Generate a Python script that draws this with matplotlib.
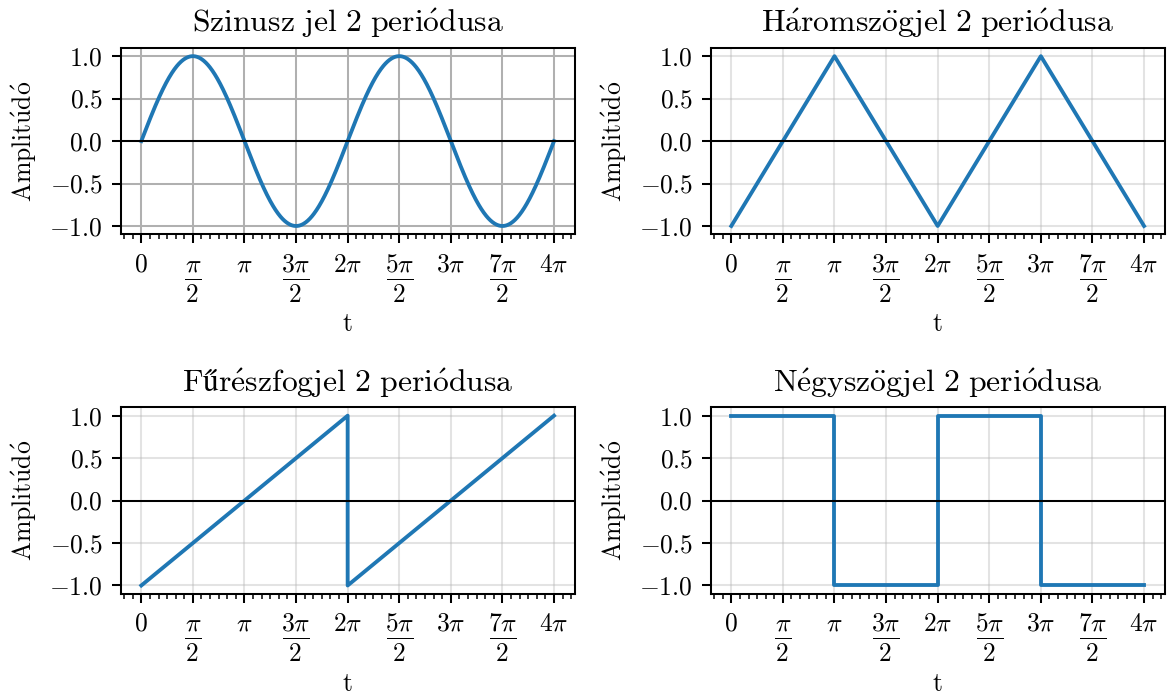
import numpy as np
import matplotlib
matplotlib.use("Agg")
import matplotlib.pyplot as plt
from matplotlib.ticker import MultipleLocator

plt.rcParams['font.family'] = 'serif'
plt.rcParams['font.serif'] = ['cmr10']
plt.rcParams['mathtext.fontset'] = 'cm'
plt.rcParams['axes.formatter.use_mathtext'] = True
plt.rcParams['axes.unicode_minus'] = True

PI = np.pi

# signal parameters
n_periods = 2
amplitude = 1.0

# breakpoints of the piecewise linear signals (t in units of pi)
tri_t = [0, 1, 2, 3, 4]
tri_y = [-1, 1, -1, 1, -1]
saw_t = [0, 2, 2, 4]
saw_y = [-1, 1, -1, 1]
sq_t = [0, 1, 1, 2, 2, 3, 3, 4]
sq_y = [1, 1, -1, -1, 1, 1, -1, -1]

# x tick positions (units of pi) and labels; fractions are stacked by hand
# so numerator/denominator get TeX-like spacing
tick_pos = [0, 0.5, 1, 1.5, 2, 2.5, 3, 3.5, 4]
tick_labels = [r'$0$',
               r'$\pi$' + '\n' + r'$\overline{\hspace{0.05}2\hspace{0.05}}$',
               r'$\pi$',
               r'$3\pi$' + '\n' + r'$\overline{\;2\;}$',
               r'$2\pi$',
               r'$5\pi$' + '\n' + r'$\overline{\;2\;}$',
               r'$3\pi$',
               r'$7\pi$' + '\n' + r'$\overline{\;2\;}$',
               r'$4\pi$']
y_ticks = [-1.0, -0.5, 0.0, 0.5, 1.0]

titles = [r'$\mathrm{Szinusz\ jel\ 2\ peri\acute{o}dusa}$',
          r'$\mathrm{H\acute{a}romsz\ddot{o}gjel\ 2\ peri\acute{o}dusa}$',
          r'$\mathrm{Fűr\acute{e}szfogjel\ 2\ peri\acute{o}dusa}$',
          r'$\mathrm{N\acute{e}gysz\ddot{o}gjel\ 2\ peri\acute{o}dusa}$']
ylabel = r'$\mathrm{Amplit\acute{u}d\acute{o}}$'
xlabel = r'$\mathrm{t}$'

blue = '#1f77b4'

t = np.linspace(0, n_periods * 2 * PI, 1000)
signals = [
    (t, amplitude * np.sin(t)),
    (np.array(tri_t) * PI, tri_y),
    (np.array(saw_t) * PI, saw_y),
    (np.array(sq_t) * PI, sq_y),
]

fig, axes = plt.subplots(2, 2, figsize=(1167 / 184, 697 / 184), dpi=184)
fig.subplots_adjust(left=0.1034, right=0.998, top=0.9316, bottom=0.1478,
                    wspace=0.2996, hspace=0.9245)

for i, ax in enumerate(axes.flat):
    x, y = signals[i]
    ax.plot(x, y, color=blue, lw=1.5)
    ax.axhline(0, color='k', lw=0.8)
    ax.set_title(titles[i], fontsize=12.4)
    ax.set_ylabel(ylabel, fontsize=10)
    ax.set_xlabel(xlabel, fontsize=10, labelpad=2)
    ax.set_xticks(np.array(tick_pos) * PI)
    ax.set_xticklabels(tick_labels, fontsize=10, linespacing=1.1)
    ax.xaxis.set_minor_locator(MultipleLocator(PI / 12))
    ax.set_yticks(y_ticks)
    ax.tick_params(axis='y', labelsize=10)
    if i == 0:
        ax.grid(True, color='#b0b0b0', lw=0.8)
    else:
        ax.grid(True, color='#b0b0b0', lw=0.8, alpha=0.35)

fig.savefig('out.png', dpi=184)
